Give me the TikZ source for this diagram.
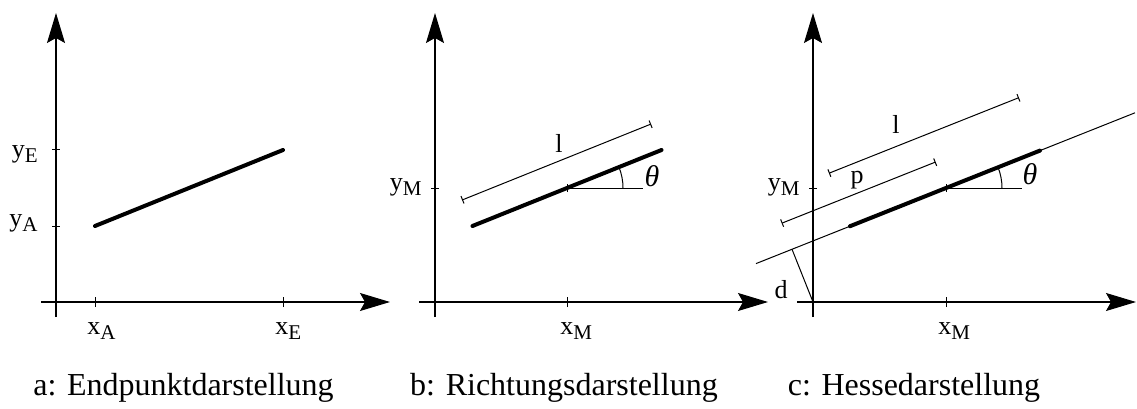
\documentclass[tikz,border=0pt]{standalone}
\usepackage{fontspec}
\setmainfont{Liberation Serif}
\usetikzlibrary{arrows.meta,calc}
\newcommand{\idx}[2]{#1\raisebox{-2.5pt}{\fontsize{10.5}{12}\selectfont #2}}

\begin{document}
\begin{tikzpicture}[x=0.5pt, y=0.5pt,
  axis/.style={line width=0.6pt, -{Stealth[length=15pt, width=9pt, inset=2.5pt]}},
  seg/.style={line width=2pt, line cap=round},
  hair/.style={line width=0.5pt},
  dim/.style={line width=0.5pt, {Bar[width=4pt]}-{Bar[width=4pt]}},
  lbl/.style={inner sep=0pt, font=\fontsize{13}{15}\selectfont},
  figcap/.style={inner sep=0pt, anchor=base, font=\fontsize{16}{19}\selectfont}
]
\useasboundingbox (0,0) rectangle (1137,408);

% a: Endpunktdarstellung
\coordinate (Oa) at (56,106);
\coordinate (ya0) at (56,91);   \coordinate (ya1) at (56,395);
\coordinate (xa0) at (41,106);  \coordinate (xa1) at (390,106);
\coordinate (Aa) at (95,182);
\coordinate (Ea) at (283,258);
\draw[axis] (ya0) -- (ya1);
\draw[axis] (xa0) -- (xa1);
\draw[hair] (Oa |- Aa) ++(-4,0) -- ++(8,0);
\draw[hair] (Oa |- Ea) ++(-4,0) -- ++(8,0);
\draw[hair] (Aa |- Oa) ++(0,-5) -- ++(0,10);
\draw[hair] (Ea |- Oa) ++(0,-5) -- ++(0,10);
\draw[seg] (Aa) -- (Ea);
\node[lbl, anchor=base east] (yEa) at (38,250) {\idx{y}{E}};
\node[lbl, anchor=base east] (yAa) at (38,182) {\idx{y}{A}};
\node[lbl, anchor=base west] (xAa) at (87,74) {\idx{x}{A}};
\node[lbl, anchor=base west] (xEa) at (275,74) {\idx{x}{E}};
\node[figcap] (capa) at (183.5,13) {a: Endpunktdarstellung};

% b: Richtungsdarstellung
\coordinate (Ob) at (435,106);
\coordinate (yb0) at (435,91);  \coordinate (yb1) at (435,395);
\coordinate (xb0) at (419,106); \coordinate (xb1) at (768,106);
\coordinate (Mb) at (567,220);
\coordinate (Ab) at (472.5,182);
\coordinate (Bb) at (661.5,258);
\coordinate (Hb) at (643,220);
\draw[axis] (yb0) -- (yb1);
\draw[axis] (xb0) -- (xb1);
\draw[hair] (Ob |- Mb) ++(-4,0) -- ++(8,0);
\draw[hair] (Mb |- Ob) ++(0,-5) -- ++(0,10);
\draw[seg] (Ab) -- (Bb);
\draw[hair] (Mb) ++(0,-4) -- ++(0,8);
\draw[hair] (Mb) -- (Hb);
\draw[hair] ($(Mb)+(56,0)$) arc[start angle=0, end angle=21.9, radius=28pt];
\draw[dim] ($(Ab)!14pt!90:(Bb)$) -- ($(Bb)!14pt!-90:(Ab)$);
\node[lbl, anchor=base east] (yMb) at (422,218) {\idx{y}{M}};
\node[lbl, anchor=base west] (xMb) at (560,74) {\idx{x}{M}};
\node[lbl] (lb) at (559,265) {l};
\node[lbl, font=\fontsize{15}{17}\selectfont] (thb) at (652,232) {\textit{θ}};
\node[figcap] (capb) at (564,13) {b: Richtungsdarstellung};

% c: Hessedarstellung
\coordinate (Oc) at (813,106);
\coordinate (yc0) at (813,91);  \coordinate (yc1) at (813,395);
\coordinate (xc0) at (797,106); \coordinate (xc1) at (1136,106);
\coordinate (Mc) at (946,220);
\coordinate (Lc1) at (756,144.4);
\coordinate (Lc2) at (1135,295.2);
\coordinate (Ac) at (850,181.8);
\coordinate (Bc) at (1040,257.4);
\coordinate (Hc) at (1022,220);
\coordinate (Fc) at ($(Lc1)!(Oc)!(Lc2)$);
\draw[axis] (yc0) -- (yc1);
\draw[axis] (xc0) -- (xc1);
\draw[hair] (Oc |- Mc) ++(-4,0) -- ++(8,0);
\draw[hair] (Mc |- Oc) ++(0,-5) -- ++(0,10);
\draw[hair] (Lc1) -- (Lc2);
\draw[seg] (Ac) -- (Bc);
\draw[hair] (Mc) ++(0,-4) -- ++(0,8);
\draw[hair] (Mc) -- (Hc);
\draw[hair] ($(Mc)+(56,0)$) arc[start angle=0, end angle=21.7, radius=28pt];
\draw[hair] (Oc) -- (Fc);
\draw[dim] ($(Fc)!14pt!90:(Mc)$) -- ($(Mc)!14pt!-90:(Fc)$);
\draw[dim] ($(Ac)!28.5pt!90:(Bc)$) -- ($(Bc)!28.5pt!-90:(Ac)$);
\node[lbl, anchor=base east] (yMc) at (800,218) {\idx{y}{M}};
\node[lbl, anchor=base west] (xMc) at (938,74) {\idx{x}{M}};
\node[lbl] (lc) at (896,284) {l};
\node[lbl] (pc) at (857,228) {p};
\node[lbl] (dc) at (781,118) {d};
\node[lbl, font=\fontsize{15}{17}\selectfont] (thc) at (1030,234) {\textit{θ}};
\node[figcap] (capc) at (914,13) {c: Hessedarstellung};
\end{tikzpicture}
\end{document}
